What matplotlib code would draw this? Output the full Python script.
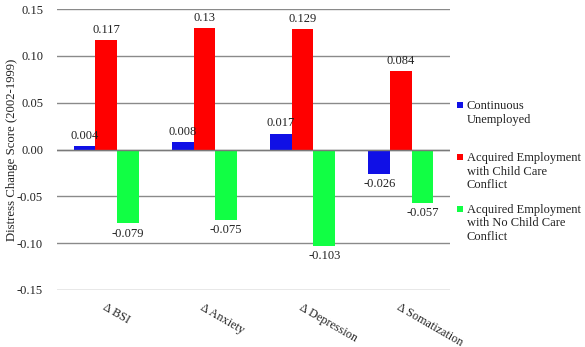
import matplotlib
matplotlib.use("Agg")
import matplotlib.pyplot as plt
import numpy as np
import matplotlib.transforms as mtransforms
from matplotlib.patches import Rectangle
from matplotlib.legend_handler import HandlerBase
from matplotlib.ticker import FormatStrFormatter, MultipleLocator

plt.rcParams['font.family'] = ['Liberation Serif', 'DejaVu Serif']

categories = ["Δ BSI", "Δ Anxiety", "Δ Depression", "Δ Somatization"]
series_names = ["Continuous\nUnemployed\n ",
                "Acquired Employment\nwith Child Care\nConflict",
                "Acquired Employment\nwith No Child Care\nConflict"]
continuous = [0.004, 0.008, 0.017, -0.026]
child_conflict = [0.117, 0.13, 0.129, 0.084]
no_child_conflict = [-0.079, -0.075, -0.103, -0.057]
colors = ["#1010e6", "#ff0000", "#11ff44"]
TXT = '#222222'


class TopSquare(HandlerBase):
    def create_artists(self, legend, orig_handle, xdescent, ydescent,
                       width, height, fontsize, trans):
        s = 4.2
        shift = fontsize * 1.17
        r = Rectangle((width - s - xdescent, height / 2 - s / 2 - ydescent + shift), s, s,
                      facecolor=orig_handle.get_facecolor(), edgecolor='none',
                      transform=trans)
        return [r]


fig = plt.figure(figsize=(5.85, 3.47), dpi=100)
ax = fig.add_axes([57 / 585, 1 - 290 / 347, (450 - 57) / 585, (290 - 9) / 347])

x = np.arange(len(categories))
w = 0.22
series = [continuous, child_conflict, no_child_conflict]
containers = []
for i, (vals, c, name) in enumerate(zip(series, colors, series_names)):
    bc = ax.bar(x + (i - 1) * w, vals, width=w, color=c, label=name, zorder=3)
    containers.append(bc)
left_shift = mtransforms.ScaledTranslation(-3.5 / 72, 0, fig.dpi_scale_trans)
for k, bc in enumerate(containers):
    texts = ax.bar_label(bc, fmt='%g', padding=3, fontsize=9, color=TXT)
    for t, v in zip(texts, series[k]):
        t.set_zorder(6)
        if k == 0 and v > 0:
            t.set_transform(t.get_transform() + left_shift)

ax.set_xlim(-0.5, len(categories) - 0.5)
ax.set_ylim(-0.15, 0.15)
ax.yaxis.set_major_locator(MultipleLocator(0.05))
ax.yaxis.set_major_formatter(FormatStrFormatter('%.2f'))
ax.grid(axis='y', color='#8a8a8a', linewidth=1.0, zorder=0)
ax.axhline(0, color='#7a7a7a', linewidth=1.0, zorder=4)
for s in ax.spines.values():
    s.set_visible(False)
ax.tick_params(axis='both', length=0, labelsize=9, colors=TXT)
ax.tick_params(axis='y', pad=10)
ax.set_xticks(x)
ax.set_xticklabels(categories, rotation=-30, ha='left', va='top',
                   rotation_mode='anchor', fontsize=8.7)
ax.tick_params(axis='x', pad=8)

ax.set_ylabel("Distress Change Score (2002-1999)", fontsize=9.2, color=TXT)
ax.yaxis.set_label_coords(18 / 585, 0.5,
                          transform=mtransforms.blended_transform_factory(fig.transFigure, ax.transAxes))

handles = [bc.patches[0] for bc in containers]
leg = fig.legend(handles, series_names, loc='upper left',
                 bbox_to_anchor=(455 / 585, 1 - 100 / 347),
                 frameon=False, fontsize=9, borderpad=0, borderaxespad=0,
                 handlelength=0.6, handletextpad=0.35, labelspacing=0.98,
                 handler_map={Rectangle: TopSquare()})
for t in leg.get_texts():
    t.set_color(TXT)

fig.savefig("out.png", dpi=100)
